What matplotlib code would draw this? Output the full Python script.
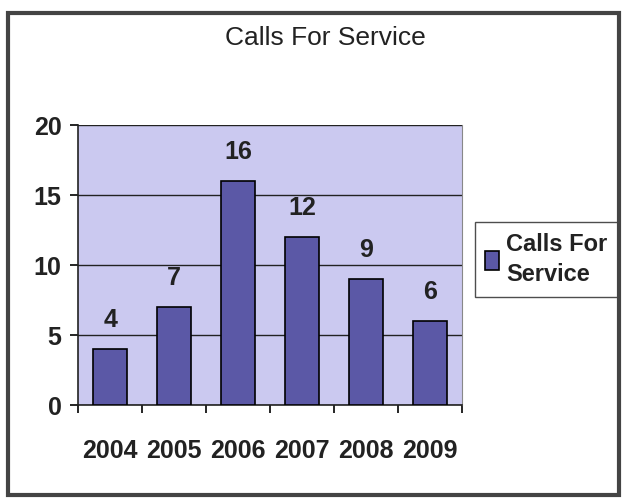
import matplotlib
matplotlib.use("Agg")
import matplotlib.pyplot as plt
from matplotlib.patches import Rectangle

years = ["2004", "2005", "2006", "2007", "2008", "2009"]
calls = [4, 7, 16, 12, 9, 6]
yticks = [0, 5, 10, 15, 20]
title = "Calls For Service"
series_label = "Calls For\nService"

plt.rcParams['font.family'] = ['Liberation Sans', 'DejaVu Sans']

fig = plt.figure(figsize=(6.25, 4.99), dpi=100)
fig.patch.set_facecolor('white')
ax = fig.add_axes([0.125, 0.188, 0.614, 0.561])
ax.set_facecolor('#cbc9f0')

x = range(len(years))
bars = ax.bar(x, calls, width=0.52, color='#5b58a6', edgecolor='black', linewidth=1.2,
              label=series_label, zorder=3)
for xi, v in zip(x, calls):
    ax.text(xi, v + 1.2, str(v), ha='center', va='bottom', fontsize=18,
            fontweight='bold', color='#222222', zorder=4)

ax.set_xlim(-0.5, len(years) - 0.5)
ax.set_ylim(0, 20)
ax.set_yticks(yticks)
ax.set_yticklabels([str(t) for t in yticks], fontsize=18, fontweight='bold', color='#222222')
ax.set_xticks([i - 0.5 for i in range(len(years) + 1)])
ax.set_xticklabels([])
ax.set_xticks(list(x), minor=True)
ax.set_xticklabels(years, minor=True, fontsize=18, fontweight='bold', color='#222222')
ax.tick_params(axis='x', which='minor', length=0, pad=24)
ax.tick_params(axis='x', which='major', length=6, direction='out', width=1.2)
ax.tick_params(axis='y', length=6, direction='out', width=1.2, pad=6)
ax.grid(axis='y', color='#222222', linewidth=1.0, zorder=1)
for s in ['left', 'bottom']:
    ax.spines[s].set_linewidth(1.2)
    ax.spines[s].set_color('#222222')
ax.spines['right'].set_color('#888888')
ax.spines['right'].set_linewidth(0.8)
ax.spines['top'].set_visible(False)

fig.text(0.52, 0.923, title, ha='center', va='center', fontsize=19, color='#222222')

leg = ax.legend(loc='center left', bbox_to_anchor=(1.033, 0.52),
                frameon=True, fancybox=False, edgecolor='#222222',
                handlelength=0.6, handleheight=0.9, handletextpad=0.3,
                borderpad=0.45, borderaxespad=0.0,
                prop={'size': 17, 'weight': 'bold'})
leg.get_frame().set_linewidth(1.0)
for t in leg.get_texts():
    t.set_linespacing(1.4)
    t.set_color('#222222')

fig.patches.append(Rectangle((0.012, 0.008), 0.978, 0.965, transform=fig.transFigure,
                             fill=False, edgecolor='#444444', linewidth=3))

fig.savefig('out.png', dpi=100, facecolor='white')
